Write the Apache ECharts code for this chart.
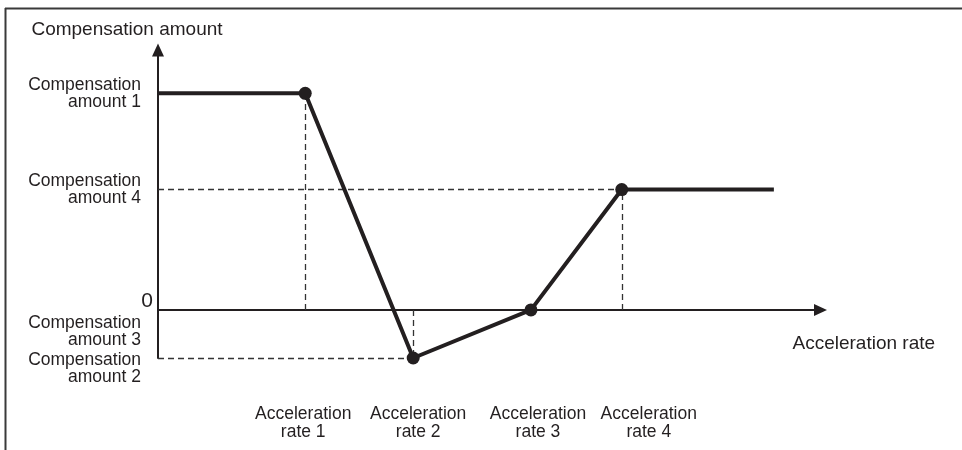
<!DOCTYPE html>
<html>
<head>
<meta charset="utf-8">
<script src="https://cdn.jsdelivr.net/npm/echarts@6/dist/echarts.min.js"></script>
<style>
  html, body { margin: 0; padding: 0; background: #fff; }
  #main { width: 962px; height: 450px; }
</style>
</head>
<body>
<div id="main"></div>
<script>
// acceleration rates on the x axis (arbitrary units)
const rateValues = [3.0, 5.2, 7.6, 9.45];
const rateLabels = ['Acceleration\nrate 1', 'Acceleration\nrate 2', 'Acceleration\nrate 3', 'Acceleration\nrate 4'];
// compensation amounts on the y axis
const amountValues = [4.5, -1, 0, 2.5]; // amount 1..4
const amountLabels = ['Compensation\namount 1', 'Compensation\namount 2', 'Compensation\namount 3', 'Compensation\namount 4'];
// curve: start of range, rate 1..4, end of range
const curveX = [0, 3.0, 5.2, 7.6, 9.45, 12.55];
const curveY = [4.5, 4.5, -1, 0, 2.5, 2.5];
const xMax = 13.5, yMin = -1, yMax = 5.4;

const INK = '#231f20';
const FONT = 'Liberation Sans, Arial, sans-serif';

let chart = echarts.init(document.getElementById('main'));

// dashed guide lines from each corner point to the axes
let guides = [];
[1, 2, 4].forEach(i => {
  guides.push([{ coord: [curveX[i], 0] }, { coord: [curveX[i], curveY[i]] }]);
});
[2, 4].forEach(i => {
  guides.push([{ coord: [0, curveY[i]] }, { coord: [curveX[i], curveY[i]] }]);
});

// axis may hand back slightly rounded values, so match the nearest one
function nearest(arr, v) {
  let best = 0;
  arr.forEach((a, i) => { if (Math.abs(a - v) < Math.abs(arr[best] - v)) best = i; });
  return best;
}

function yLabel(v) {
  let idx = nearest(amountValues, v);
  let lines = amountLabels[idx].split('\n').map(t => '{a|' + t + '}').join('\n');
  if (idx === 2) return '{s| }\n{z|0}\n' + lines; // "0" above the axis, "amount 3" below it
  if (idx === 1) return '{s2| }\n' + lines;
  return lines;
}

function xLabel(v) {
  let idx = nearest(rateValues, v);
  let st = 'r' + (idx + 1);
  return rateLabels[idx].split('\n').map(t => '{' + st + '|' + t + '}').join('\n');
}

let xRich = {};
// small sideways nudges of the rate labels, as in the original drawing
[-2, 5, 7, 27].forEach((d, i) => {
  xRich['r' + (i + 1)] = { fontSize: 17.5, lineHeight: 18, color: INK, fontFamily: FONT, padding: [0, -d - 10, 0, d - 10] };
});

function rateAxisLabel(values) {
  return {
    customValues: values,
    margin: 47,
    hideOverlap: false,
    showMinLabel: true,
    showMaxLabel: true,
    color: INK,
    formatter: xLabel,
    rich: xRich
  };
}

let option = {
  animation: false,
  textStyle: { fontFamily: FONT },
  graphic: [
    { type: 'line', shape: { x1: 5, y1: 8.5, x2: 962, y2: 8.5 }, style: { stroke: '#3a3a3a', lineWidth: 2 } },
    { type: 'line', shape: { x1: 5.5, y1: 8, x2: 5.5, y2: 450 }, style: { stroke: '#3a3a3a', lineWidth: 2 } }
  ],
  grid: { left: 158, right: 141.5, top: 50, bottom: 92, containLabel: false, outerBoundsMode: 'none' },
  xAxis: [
    {
      type: 'value',
      min: 0,
      max: xMax,
      position: 'bottom',
      name: 'Acceleration rate',
      nameLocation: 'end',
      nameGap: -28,
      nameMoveOverlap: false,
      nameTextStyle: { fontSize: 19, color: INK, align: 'left', verticalAlign: 'top', padding: [24, 0, 0, 0], fontFamily: FONT },
      axisLine: { show: true, onZero: true, onZeroAxisIndex: 0, symbol: ['none', 'triangle'], symbolSize: [12, 13], lineStyle: { color: INK, width: 2 } },
      axisTick: { show: false },
      splitLine: { show: false },
      axisLabel: rateAxisLabel(rateValues.slice(0, 3))
    },
    {
      // carries the last rate label only, so the close neighbours are not dropped
      type: 'value',
      min: 0,
      max: xMax,
      position: 'bottom',
      axisLine: { show: false, onZero: true, onZeroAxisIndex: 0 },
      axisTick: { show: false },
      splitLine: { show: false },
      axisLabel: rateAxisLabel(rateValues.slice(3))
    }
  ],
  yAxis: {
    type: 'value',
    min: yMin,
    max: yMax,
    name: 'Compensation amount',
    nameLocation: 'end',
    nameGap: 11,
    nameTextStyle: { fontSize: 19, color: INK, align: 'center', padding: [0, 62, 0, 0], fontFamily: FONT },
    axisLine: { show: true, onZero: true, symbol: ['none', 'triangle'], symbolSize: [12, 13], lineStyle: { color: INK, width: 2 } },
    axisTick: { show: false },
    splitLine: { show: false },
    axisLabel: {
      customValues: amountValues,
      showMinLabel: true,
      showMaxLabel: true,
      hideOverlap: false,
      margin: 5,
      color: INK,
      formatter: yLabel,
      rich: {
        a: { fontSize: 17.5, lineHeight: 17, color: INK, fontFamily: FONT, padding: [0, 12, 0, 0] },
        z: { fontSize: 21, lineHeight: 27.5, color: INK, fontFamily: FONT },
        s: { fontSize: 10, lineHeight: 17 },
        s2: { fontSize: 10, lineHeight: 21 }
      }
    }
  },
  series: [
    {
      type: 'line',
      xAxisIndex: 0,
      data: curveX.map((x, i) => ({
        value: [x, curveY[i]],
        symbol: (i === 0 || i === curveX.length - 1) ? 'none' : 'circle'
      })),
      symbolSize: 13,
      lineStyle: { color: INK, width: 4 },
      itemStyle: { color: INK },
      z: 3,
      markLine: {
        silent: true,
        symbol: ['none', 'none'],
        label: { show: false },
        lineStyle: { color: '#333', width: 1.3, type: [6, 4] },
        data: guides,
        z: 1
      }
    }
  ]
};

chart.setOption(option);
</script>
</body>
</html>
